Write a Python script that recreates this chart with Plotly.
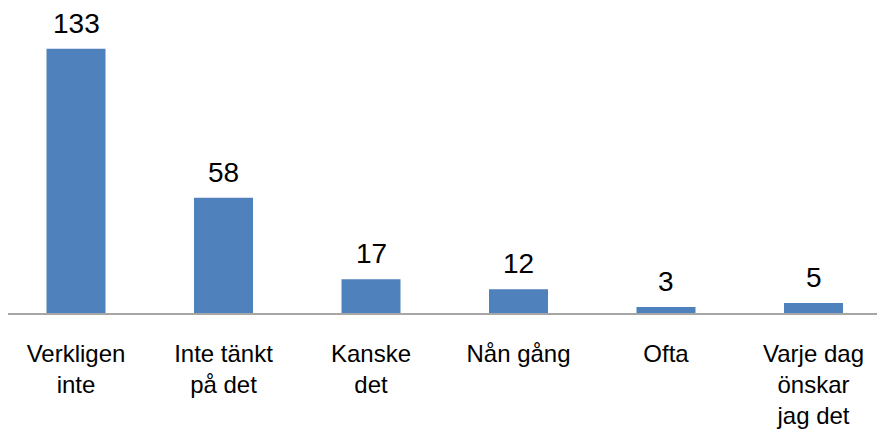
import plotly.graph_objects as go

categories = ["Verkligen<br>inte", "Inte tänkt<br>på det", "Kanske<br>det", "Nån gång", "Ofta", "Varje dag<br>önskar<br>jag det"]
values = [133, 58, 17, 12, 3, 5]

FONT = "Liberation Sans Narrow, Arial Narrow, Liberation Sans, Arial, sans-serif"

fig = go.Figure(go.Bar(
    x=list(range(len(categories))), y=values,
    marker=dict(color="#4f81bd", line=dict(width=0)),
    width=0.4,
))
for i, v in enumerate(values):
    fig.add_annotation(x=i, y=v, text=str(v), showarrow=False, yanchor="bottom", yshift=9,
                       borderpad=0, font=dict(family=FONT, size=28, color="#000000"))
fig.update_layout(
    width=885, height=443,
    margin=dict(l=0, r=0, t=7, b=138),
    paper_bgcolor="white", plot_bgcolor="white",
    showlegend=False,
    font=dict(family=FONT, size=24, color="#000000"),
    xaxis=dict(range=[-0.461, 5.539], showline=True, linecolor="#a6a6a6", linewidth=1.5, ticks="",
               tickmode="array", tickvals=list(range(len(categories))), ticktext=categories,
               tickfont=dict(size=24), ticklabelstandoff=18, showgrid=False, zeroline=False),
    yaxis=dict(range=[0, 150], visible=False, showgrid=False),
)
fig.write_html("out.html")
